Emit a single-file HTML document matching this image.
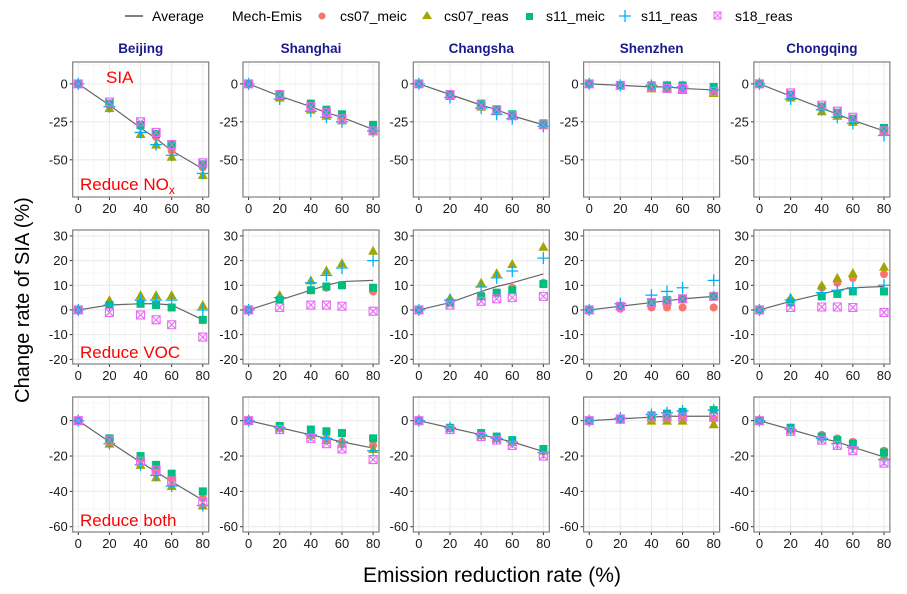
<!DOCTYPE html>
<html><head><meta charset="utf-8">
<style>
body{margin:0;background:#fff;}
svg{display:block;font-family:"Liberation Sans",sans-serif;}
</style></head>
<body>
<svg id="chart" width="907" height="594" xmlns="http://www.w3.org/2000/svg"></svg>
<script>
const xs = [0,20,40,50,60,80];
const cities = ["Beijing","Shanghai","Changsha","Shenzhen","Chongqing"];
const seriesNames = ["cs07_meic","cs07_reas","s11_meic","s11_reas","s18_reas"];
const rowNames = ["Reduce NOx","Reduce VOC","Reduce both"];
const yTicksRow1 = [0,-25,-50];
const yTicksRow2 = [-20,-10,0,10,20,30];
const yTicksRow3 = [0,-20,-40,-60];
const xTicks = [0,20,40,60,80];
// row 1: reduce NOx  [city][series]
const nox_meic = [[0,-14,-28,-35,-44,-55],[0,-8,-15,-19,-22,-30],[0,-7,-14,-17,-21,-27],[0,-1,-2,-2,-3,-5],[0,-8,-16,-20,-24,-30]];
const nox_cs07reas = [[0,-16,-33,-40,-48,-60],[0,-9,-17,-21,-24,-31],[0,-8,-15,-18,-21,-27],[0,-1,-3,-3,-4,-6],[0,-9,-18,-21,-25,-31]];
const nox_s11meic = [[0,-13,-27,-33,-40,-53],[0,-7,-13,-17,-20,-27],[0,-7,-13,-17,-20,-26],[0,-1,-1,-1,-1,-2],[0,-7,-15,-19,-23,-29]];
const nox_s11reas = [[0,-15,-32,-40,-47,-59],[0,-10,-18,-22,-25,-31],[0,-9,-16,-20,-23,-28],[0,-1,-1,-2,-2,-4],[0,-10,-17,-22,-26,-34]];
const nox_s18reas = [[0,-12,-25,-32,-40,-52],[0,-7,-15,-19,-23,-31],[0,-7,-14,-17,-21,-27],[0,-1,-2,-3,-3,-5],[0,-6,-14,-18,-22,-31]];
const nox_avg = [[0,-14,-29,-36,-44,-56],[0,-8,-15,-19,-22,-30],[0,-7,-14,-17,-21,-27],[0,-1,-2,-2,-3,-4],[0,-8,-16,-20,-24,-31]];
// row 2: reduce VOC
const voc_meic = [[0,2,3,2,1,-4],[0,4,8,9,10,7.5],[0,3,6,7,9,11],[0,0.5,1,1,1,1],[0,4,9,11,13,14.5]];
const voc_cs07reas = [[0,4,6,6,6,2],[0,6,12,16,19,24],[0,4.9,11,14.9,18.6,25.6],[0,1.5,3,4,4.5,6],[0,5,10,13,15,17.5]];
const voc_s11meic = [[0,2,2.5,2,1,-4],[0,4,8,9.5,10,9],[0,3,5.5,7,8,10.5],[0,1.5,3,4,4.5,5.5],[0,3,5.5,6.5,7.5,7.5]];
const voc_s11reas = [[0,2,4,4,4,0],[0,5,11,14,17,20],[0,4,9.3,13,15.8,21],[0,2.5,6,7.5,9,12],[0,4,7,8,9,10]];
const voc_s18reas = [[0,-1,-2,-4,-6,-11],[0,1,2,2,1.5,-0.5],[0,2,3.5,4.5,5,5.5],[0,1.5,3,3.5,4.5,5.5],[0,1,1.2,1.2,1,-1]];
const voc_avg = [[0,2,2.5,2.5,2,-4],[0,4,8,10,11.5,12],[0,3,7.5,9.5,11,14.6],[0,1.5,3,3.7,4.5,5.5],[0,3.5,6.5,8,9,9.5]];
// row 3: reduce both
const both_meic = [[0,-12,-22,-28,-33,-44],[0,-4,-8,-10,-12,-14],[0,-4,-8,-10,-12,-17],[0,1,2,2,2,1],[0,-5,-8,-10,-12,-17]];
const both_cs07reas = [[0,-13,-25,-32,-37,-48],[0,-4,-8,-11,-13,-16],[0,-4,-8,-10,-12,-17],[0,0.5,0,0,0,-2],[0,-5,-9,-11,-14,-20]];
const both_s11meic = [[0,-10,-20,-25,-30,-40],[0,-3,-5,-6,-7,-10],[0,-4,-7,-9,-11,-16],[0,1,3,4,5,6],[0,-4,-9,-11,-13,-18]];
const both_s11reas = [[0,-13,-25,-31,-37,-48],[0,-4,-8,-10,-12,-17],[0,-4,-8,-10,-12,-18],[0,1.5,3.5,4.5,5.5,6],[0,-5,-10,-13,-15,-22]];
const both_s18reas = [[0,-11,-23,-28,-34,-46],[0,-5,-10,-13,-16,-22],[0,-5,-9,-11,-14,-20],[0,1,2,2,2,2],[0,-6,-11,-14,-17,-24]];
const both_avg = [[0,-12,-23.5,-29,-34.5,-45],[0,-4,-8,-10,-12,-15.5],[0,-4,-8,-10,-12,-17.5],[0,1,2,2.5,2.5,2.5],[0,-5,-10,-12,-15,-20.5]];

const NS="http://www.w3.org/2000/svg";
const svg=document.getElementById('chart');
function mk(tag,attrs,parent){const e=document.createElementNS(NS,tag);for(const k in attrs)e.setAttribute(k,attrs[k]);(parent||svg).appendChild(e);return e;}
function txt(s,attrs,parent){const e=mk('text',attrs,parent);e.textContent=s;return e;}

const colors=["#F8766D","#A3A500","#00BF7D","#00B0F6","#E76BF3"];
const colLeft=[72.7,243,413.3,583.6,753.9];
const panelW=136;
const rowTop=[62,230,397], rowBot=[197,364,532];
const yDomains=[[-74.5,14.4],[-21.9,32.4],[-63,13.4]];
const xDomain=[-3.6,83.8];
const rowTicks=[yTicksRow1,yTicksRow2,yTicksRow3];
const rowMinor=[[-62.5,-37.5,-12.5,12.5],[-15,-5,5,15,25],[-50,-30,-10,10]];
const rowData=[
 [nox_meic,nox_cs07reas,nox_s11meic,nox_s11reas,nox_s18reas,nox_avg],
 [voc_meic,voc_cs07reas,voc_s11meic,voc_s11reas,voc_s18reas,voc_avg],
 [both_meic,both_cs07reas,both_s11meic,both_s11reas,both_s18reas,both_avg]];

function marker(type,x,y,g){
  let e;
  if(type===0){e=mk('circle',{cx:x,cy:y,r:4,fill:colors[0]},g);}
  else if(type===1){e=mk('polygon',{points:`${x},${y-5} ${x-5},${y+4} ${x+5},${y+4}`,fill:colors[1]},g);}
  else if(type===2){e=mk('rect',{x:x-4,y:y-4,width:8,height:8,fill:colors[2]},g);}
  else if(type===3){e=mk('path',{d:`M${x-6},${y}H${x+6}M${x},${y-6}V${y+6}`,stroke:colors[3],'stroke-width':1.3,fill:'none'},g);}
  else {e=mk('path',{d:`M${x-4},${y-4}h8v8h-8zM${x-4},${y-4}l8,8M${x+4},${y-4}l-8,8`,stroke:colors[4],'stroke-width':1.1,fill:'none'},g);}
  return e;
}

for(let r=0;r<3;r++){
  const [y0,y1]=yDomains[r];
  const sy=v=>rowBot[r]-(v-y0)/(y1-y0)*(rowBot[r]-rowTop[r]);
  for(let c=0;c<5;c++){
    const L=colLeft[c];
    const sx=v=>L+(v-xDomain[0])/(xDomain[1]-xDomain[0])*panelW;
    const g=mk('g',{});
    
    
    mk('rect',{x:L,y:rowTop[r],width:panelW,height:rowBot[r]-rowTop[r],fill:'#fff'},g);
    for(const m of rowMinor[r]) mk('line',{x1:L,x2:L+panelW,y1:sy(m),y2:sy(m),stroke:'#f2f2f2','stroke-width':0.6},g);
    for(const m of [10,30,50,70]) mk('line',{x1:sx(m),x2:sx(m),y1:rowTop[r],y2:rowBot[r],stroke:'#f2f2f2','stroke-width':0.6},g);
    for(const t of rowTicks[r]){
      mk('line',{x1:L,x2:L+panelW,y1:sy(t),y2:sy(t),stroke:'#ebebeb','stroke-width':1.1},g);
      mk('line',{x1:L-3,x2:L,y1:sy(t),y2:sy(t),stroke:'#333','stroke-width':1},g);
      const tl=txt(String(t),{x:L-5,y:sy(t)+4.5,'text-anchor':'end','font-size':13,fill:'#1a1a1a'},g);
      
      
    }
    for(const t of xTicks){
      mk('line',{x1:sx(t),x2:sx(t),y1:rowTop[r],y2:rowBot[r],stroke:'#ebebeb','stroke-width':1.1},g);
      mk('line',{x1:sx(t),x2:sx(t),y1:rowBot[r],y2:rowBot[r]+3,stroke:'#333','stroke-width':1},g);
      const tl=txt(String(t),{x:sx(t),y:rowBot[r]+16,'text-anchor':'middle','font-size':13,fill:'#1a1a1a'},g);
      
      
    }
    const d=rowData[r];
    const avg=d[5][c];
    const line=mk('polyline',{points:xs.map((x,i)=>sx(x)+','+sy(avg[i])).join(' '),fill:'none',stroke:'#666','stroke-width':1.2},g);
    
    
    for(let s=0;s<5;s++){
      const vals=d[s][c];
      for(let i=0;i<xs.length;i++){
        const m=marker(s,sx(xs[i]),sy(vals[i]),g);
        
        
      }
    }
    mk('rect',{x:L,y:rowTop[r],width:panelW,height:rowBot[r]-rowTop[r],fill:'none',stroke:'#7f7f7f','stroke-width':1.2},g);
    if(r===0){
      const st=txt(cities[c],{x:L+panelW/2,y:53,'text-anchor':'middle','font-size':13.5,'font-weight':'bold',fill:'#1a1a8c'});
      
      
    }
  }
}
</script>
<script>
(function(){
const svg=document.getElementById('chart');
const NS="http://www.w3.org/2000/svg";
function t(s,x,y,attrs){const e=document.createElementNS(NS,'text');e.setAttribute('x',x);e.setAttribute('y',y);for(const k in attrs)e.setAttribute(k,attrs[k]);e.innerHTML=s;svg.appendChild(e);return e;}
let e;
e=t('SIA',106,83,{fill:'#ff0000','font-size':17});


e=t('Reduce NO<tspan font-size="12" dy="4">x</tspan>',80,190,{fill:'#ff0000','font-size':17});


e=t('Reduce VOC',80,358,{fill:'#ff0000','font-size':17});


e=t('Reduce both',80,526,{fill:'#ff0000','font-size':17});


e=t('Change rate of SIA (%)',0,0,{'font-size':20,'text-anchor':'middle',fill:'#000',transform:'translate(29,300) rotate(-90)'});


e=t('Emission reduction rate (%)',492,582,{'font-size':21,'text-anchor':'middle',fill:'#000'});


const lg=document.createElementNS(NS,'g');svg.appendChild(lg);


function add(tag,attrs){const x=document.createElementNS(NS,tag);for(const k in attrs)x.setAttribute(k,attrs[k]);lg.appendChild(x);return x;}
add('line',{x1:125,x2:143,y1:16,y2:16,stroke:'#333','stroke-width':1.3});
let l=add('text',{x:152,y:21,'font-size':14});l.textContent='Average';
l=add('text',{x:232,y:21,'font-size':14});l.textContent='Mech-Emis';
add('circle',{cx:322,cy:16,r:3.5,fill:'#F8766D'});
l=add('text',{x:340,y:21,'font-size':14});l.textContent='cs07_meic';
add('polygon',{points:'427,11 422,19 432,19',fill:'#A3A500'});
l=add('text',{x:444,y:21,'font-size':14});l.textContent='cs07_reas';
add('rect',{x:526,y:13,width:7,height:7,fill:'#00BF7D'});
l=add('text',{x:546,y:21,'font-size':14});l.textContent='s11_meic';
add('path',{d:'M619,16H631M625,10V22',stroke:'#00B0F6','stroke-width':1.3});
l=add('text',{x:641,y:21,'font-size':14});l.textContent='s11_reas';
add('path',{d:'M714,12h7v7h-7zM714,12l7,7M721,12l-7,7',stroke:'#E76BF3','stroke-width':1,fill:'none'});
l=add('text',{x:735,y:21,'font-size':14});l.textContent='s18_reas';
})();
</script>
</body></html>
